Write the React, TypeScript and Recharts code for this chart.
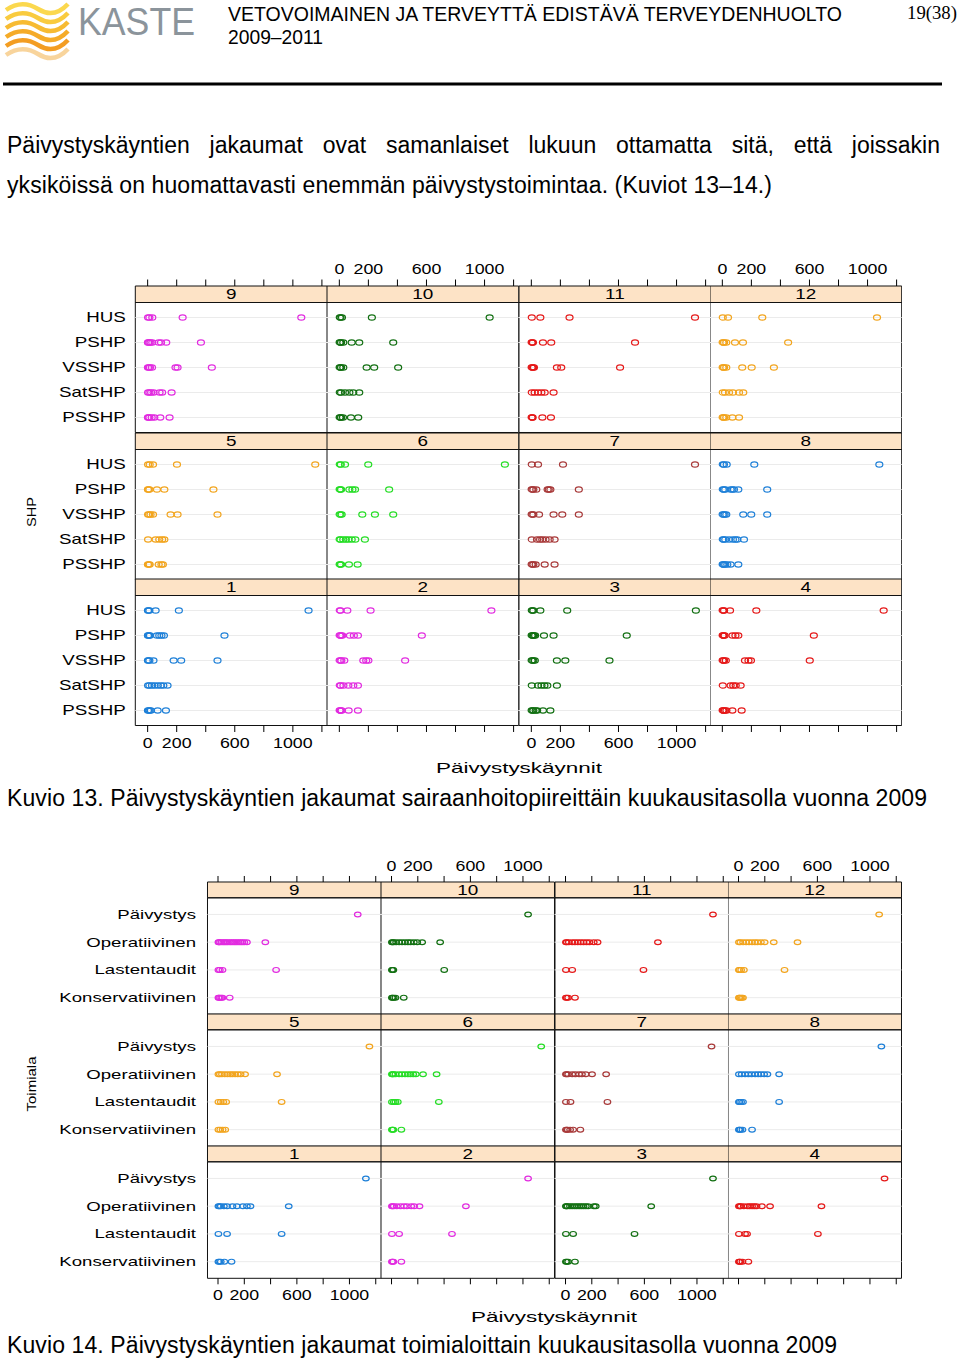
import React from 'react'
import { ScatterChart, Scatter, XAxis, YAxis, ReferenceLine, ReferenceArea } from 'recharts'

// ---------- data ----------
const shpNames = ['HUS', 'PSHP', 'VSSHP', 'SatSHP', 'PSSHP']
const toimialaNames = ['Päivystys', 'Operatiivinen', 'Lastentaudit', 'Konservatiivinen']
const monthColors = ['#1f80d8', '#e22ce0', '#137013', '#e51a1a', '#f2a51f', '#26dd26', '#a83a3a']
const xTicks = [0, 200, 400, 600, 800, 1000, 1200]
const xTickLabels = [0, 200, 600, 1000]
const panelRows = [[9, 10, 11, 12], [5, 6, 7, 8], [1, 2, 3, 4]]

// Kuvio 13: päivystyskäynnit per yksikkö, rivit shpNames-järjestyksessä
const shp1 = [[2, 6, 12, 55, 215, 1108], [2, 5, 10, 16, 64, 80, 95, 112, 529], [2, 6, 12, 40, 179, 231, 481], [3, 12, 30, 48, 70, 90, 108, 137], [2, 8, 14, 22, 69, 126]]
const shp2 = [[3, 8, 55, 215, 1047], [2, 6, 12, 20, 73, 100, 128, 568], [2, 8, 14, 34, 165, 185, 200, 453], [3, 9, 28, 62, 96, 128], [2, 5, 10, 16, 64, 128]]
const shp3 = [[3, 8, 14, 62, 247, 1133], [2, 6, 12, 18, 26, 87, 153, 657], [2, 7, 14, 24, 176, 234, 538], [3, 46, 70, 90, 110, 176], [2, 8, 14, 30, 40, 80, 131]]
const shp4 = [[2, 6, 12, 53, 234, 1111], [2, 5, 10, 16, 70, 90, 110, 630], [2, 6, 12, 24, 156, 180, 197, 602], [3, 57, 75, 92, 126], [2, 5, 10, 18, 28, 69, 133]]
const shp5 = [[3, 14, 37, 202, 1154], [2, 6, 12, 64, 115, 453], [3, 10, 20, 37, 158, 206, 481], [3, 55, 80, 100, 115], [2, 8, 14, 76, 95, 105]]
const shp6 = [[3, 10, 39, 199, 1140], [2, 6, 12, 69, 90, 108, 343], [2, 8, 16, 158, 245, 371], [2, 8, 27, 45, 62, 85, 110, 176], [2, 6, 12, 66, 126]]
const shp7 = [[3, 46, 218, 1127], [2, 7, 14, 34, 112, 120, 131, 327], [2, 7, 14, 53, 153, 213, 327], [3, 39, 60, 75, 98, 126, 160], [2, 7, 14, 30, 92, 160]]
const shp8 = [[3, 11, 30, 220, 1081], [3, 11, 20, 57, 70, 80, 110, 309], [2, 8, 16, 27, 144, 199, 309], [3, 9, 20, 46, 73, 90, 103, 149], [2, 5, 12, 20, 34, 57, 110]]
const shp9 = [[3, 12, 32, 241, 1058], [2, 6, 12, 20, 32, 76, 92, 128, 367], [2, 8, 16, 30, 192, 206, 442], [3, 12, 24, 41, 82, 100, 165], [2, 6, 12, 28, 46, 87, 151]]
const shp10 = [[3, 8, 18, 224, 1035], [2, 6, 12, 27, 85, 137, 371], [2, 6, 12, 27, 188, 240, 405], [3, 12, 39, 69, 96, 137], [2, 6, 12, 25, 80, 130]]
const shp11 = [[3, 62, 263, 1127], [2, 6, 11, 80, 137, 714], [2, 6, 12, 18, 176, 206, 611], [3, 23, 46, 69, 92, 153], [2, 5, 9, 76, 135]]
const shp12 = [[3, 39, 275, 1065], [2, 6, 12, 27, 87, 142, 453], [2, 6, 12, 27, 137, 202, 355], [3, 18, 46, 73, 115, 144], [2, 6, 12, 27, 69, 115]]

// Kuvio 14: rivit toimialaNames-järjestyksessä
const ala1 = [[1125], [3, 10, 21, 45, 69, 110, 144, 189, 220, 247, 538], [3, 69, 484], [3, 10, 21, 48, 103]]
const ala2 = [[1039], [3, 8, 17, 40, 69, 95, 117, 150, 172, 213, 566], [3, 58, 460], [3, 8, 14, 75]]
const ala3 = [[1122], [3, 7, 15, 34, 50, 69, 86, 103, 120, 137, 155, 172, 216, 230, 652], [3, 58, 525], [3, 10, 20, 72]]
const ala4 = [[1111], [3, 10, 17, 40, 69, 86, 103, 120, 137, 178, 240, 631], [3, 50, 65, 604], [3, 8, 14, 30, 75]]
const ala5 = [[1152], [3, 14, 30, 51, 72, 93, 110, 130, 150, 172, 206, 449], [3, 21, 40, 62, 484], [3, 17, 35, 55]]
const ala6 = [[1139], [3, 8, 14, 30, 58, 80, 103, 125, 144, 165, 185, 240, 343], [3, 17, 30, 48, 360], [3, 8, 14, 75]]
const ala7 = [[1111], [3, 10, 20, 51, 75, 103, 125, 154, 202, 309], [3, 38, 319], [3, 10, 17, 35, 58, 113]]
const ala8 = [[1087], [3, 24, 50, 75, 100, 127, 150, 171, 195, 220, 309], [3, 7, 20, 34, 309], [3, 7, 15, 30, 103]]
const ala9 = [[1063], [3, 7, 15, 27, 40, 51, 63, 75, 90, 103, 117, 130, 144, 158, 172, 185, 200, 220, 360], [3, 14, 34, 442], [3, 7, 15, 25, 34, 89]]
const ala10 = [[1039], [3, 8, 17, 35, 58, 80, 103, 125, 144, 170, 196, 233, 370], [3, 8, 14, 401], [3, 8, 17, 30, 93]]
const ala11 = [[1122], [3, 10, 25, 51, 72, 93, 115, 137, 160, 182, 215, 244, 703], [3, 51, 593], [3, 10, 20, 72]]
const ala12 = [[1070], [3, 14, 35, 58, 80, 103, 125, 144, 170, 199, 268, 449], [3, 7, 20, 41, 350], [3, 7, 15, 25, 34]]

// ---------- layout ----------
const FONT = '"Liberation Sans", Arial, Helvetica, sans-serif'
const AX = 32

type Fig = {
  names: string[]
  months: number[][][]
  left: number
  panelW: number
  top: number
  pitch: number
  stripH: number
  bodyH: number
  domain: [number, number]
  yGap: number
  ySize: number
  ySx: number
  tick: number
  rx: number
  ry: number
}

const kuvio13: Fig = {
  names: shpNames,
  months: [shp1, shp2, shp3, shp4, shp5, shp6, shp7, shp8, shp9, shp10, shp11, shp12],
  left: 135.3, panelW: 191.7, top: 286, pitch: 146.5, stripH: 16.5, bodyH: 130,
  domain: [-85, 1235], yGap: 9.5, ySize: 14, ySx: 1.34, tick: 6.5, rx: 3.5, ry: 2.6,
}

const kuvio14: Fig = {
  names: toimialaNames,
  months: [ala1, ala2, ala3, ala4, ala5, ala6, ala7, ala8, ala9, ala10, ala11, ala12],
  left: 207.5, panelW: 173.5, top: 881.8, pitch: 132.3, stripH: 15.8, bodyH: 116.5,
  domain: [-80, 1240], yGap: 11.5, ySize: 12.5, ySx: 1.49, tick: 6, rx: 3.3, ry: 2.4,
}

function XTick(props: any) {
  const { x, y, payload, show, side } = props
  if (!show || !xTickLabels.includes(payload?.value)) return <g />
  const ty = side === 'top' ? y - 10 : y + 11
  return (
    <g transform={`translate(${x},${ty}) scale(1.27,1)`}>
      <text textAnchor="middle" dominantBaseline="central" fontSize={14} fontFamily={FONT} fill="#000">
        {payload.value}
      </text>
    </g>
  )
}

function YTick(props: any) {
  const { x, y, payload, fig } = props
  const n = fig.names.length
  const name = fig.names[n - payload.value]
  return (
    <g transform={`translate(${x},${y}) scale(${fig.ySx},1)`}>
      <text textAnchor="end" dominantBaseline="central" fontSize={fig.ySize} fontFamily={FONT} fill="#000">
        {name}
      </text>
    </g>
  )
}

function Panel({ fig, month, r, c }: { fig: Fig; month: number; r: number; c: number }) {
  const n = fig.names.length
  const rows = fig.months[month - 1]
  const data = rows.flatMap((vals, i) => vals.map((v) => ({ x: v, y: n - i })))
  const levels = fig.names.map((_, i) => n - i)
  const ppu = fig.bodyH / (n + 0.2)
  const yMax = n + 0.6 + fig.stripH / ppu
  const yW = c === 0 ? fig.left : 0
  const w = fig.panelW + yW
  const h = AX + fig.stripH + fig.bodyH + AX
  const left = fig.left + c * fig.panelW - yW
  const top = fig.top + r * fig.pitch - AX
  const color = monthColors[(month - 1) % 7]
  const topTicks = r === 0
  const bottomTicks = r === 2
  const topLabels = topTicks && c % 2 === 1
  const bottomLabels = bottomTicks && c % 2 === 0

  return (
    <div style={{ position: 'absolute', left, top }}>
      <ScatterChart width={w} height={h} margin={{ top: 0, right: 0, bottom: 0, left: 0 }}>
        <XAxis
          xAxisId="t"
          orientation="top"
          type="number"
          dataKey="x"
          domain={fig.domain}
          allowDataOverflow
          ticks={xTicks}
          interval={0}
          height={AX}
          axisLine={false}
          stroke="#000"
          tickLine={topTicks ? { stroke: '#000' } : false}
          tickSize={fig.tick}
          tickMargin={0}
          tick={(p: any) => <XTick {...p} show={topLabels} side="top" />}
        />
        <XAxis
          xAxisId="b"
          orientation="bottom"
          type="number"
          dataKey="x"
          domain={fig.domain}
          allowDataOverflow
          ticks={xTicks}
          interval={0}
          height={AX}
          axisLine={false}
          stroke="#000"
          tickLine={bottomTicks ? { stroke: '#000' } : false}
          tickSize={fig.tick}
          tickMargin={0}
          tick={(p: any) => <XTick {...p} show={bottomLabels} side="bottom" />}
        />
        <YAxis
          yAxisId="y"
          type="number"
          dataKey="y"
          domain={[0.4, yMax]}
          allowDataOverflow
          ticks={levels}
          interval={0}
          width={yW}
          hide={c !== 0}
          axisLine={false}
          tickLine={false}
          tickSize={0}
          tickMargin={fig.yGap}
          tick={(p: any) => <YTick {...p} fig={fig} />}
        />
        {levels.map((l) => (
          <ReferenceLine key={l} xAxisId="b" yAxisId="y" y={l} stroke="#ebebeb" strokeWidth={1} />
        ))}
        <ReferenceArea
          xAxisId="b"
          yAxisId="y"
          y1={n + 0.6}
          y2={yMax}
          fill="#fde3c6"
          fillOpacity={1}
          stroke="#111"
          strokeWidth={1}
          label={(p: any) => {
            const vb = p.viewBox || {}
            const cx = vb.x + vb.width / 2
            const cy = vb.y + vb.height / 2
            return (
              <g transform={`translate(${cx},${cy + 0.5}) scale(1.35,1)`}>
                <text textAnchor="middle" dominantBaseline="central" fontSize={14} fontFamily={FONT} fill="#000">
                  {month}
                </text>
              </g>
            )
          }}
        />
        {/* invisible copy so the top axis has a series of its own */}
        <Scatter xAxisId="t" yAxisId="y" data={data} isAnimationActive={false} shape={() => <g />} />
        <Scatter
          xAxisId="b"
          yAxisId="y"
          data={data}
          isAnimationActive={false}
          shape={(p: any) => (
            <ellipse cx={p.cx} cy={p.cy} rx={fig.rx} ry={fig.ry} fill="none" stroke={color} strokeWidth={1.2} />
          )}
        />
        <ReferenceArea xAxisId="b" yAxisId="y" y1={0.4} y2={n + 0.6} fill="none" stroke="#111" strokeWidth={1} />
      </ScatterChart>
    </div>
  )
}

function Figure({ fig }: { fig: Fig }) {
  return (
    <>
      {panelRows.map((row, r) =>
        row.map((m, c) => <Panel key={`${r}-${c}`} fig={fig} month={m} r={r} c={c} />)
      )}
    </>
  )
}

function Logo() {
  const cols = ['#fbd84e', '#f9cb3f', '#f7bb32', '#f5ab28', '#f39d22', '#f3b04a']
  return (
    <g>
      {cols.map((col, i) => {
        const y = 6 + i * 9
        return (
          <path
            key={i}
            d={`M6 ${y + 4} Q 22 ${y - 7} 38 ${y + 3} T 68 ${y - 2}`}
            stroke={col}
            strokeWidth={4.5}
            fill="none"
            opacity={i === 5 ? 0.55 : 1}
          />
        )
      })}
    </g>
  )
}

export default function App() {
  const bodyFont = FONT
  return (
    <div style={{ position: 'absolute', left: 0, top: 0, width: 960, height: 1362, background: '#fff', overflow: 'hidden' }}>
      <svg width={960} height={1362} style={{ position: 'absolute', left: 0, top: 0 }}>
        <Logo />
        <text x={78} y={35} fontSize={38.5} fontFamily={bodyFont} fill="#8b949b" textLength={117} lengthAdjust="spacingAndGlyphs">
          KASTE
        </text>
        <text x={228} y={13} fontSize={21} fontFamily={'"Liberation Sans Narrow", ' + bodyFont} fill="#000" dominantBaseline="central" textLength={614} lengthAdjust="spacingAndGlyphs">
          VETOVOIMAINEN JA TERVEYTTÄ EDISTÄVÄ TERVEYDENHUOLTO
        </text>
        <text x={228} y={36} fontSize={21} fontFamily={'"Liberation Sans Narrow", ' + bodyFont} fill="#000" dominantBaseline="central" textLength={95} lengthAdjust="spacingAndGlyphs">
          2009–2011
        </text>
        <text x={907} y={13} fontSize={18} fontFamily={'"Liberation Serif", "DejaVu Serif", serif'} fill="#000" dominantBaseline="central" textLength={50} lengthAdjust="spacingAndGlyphs">
          19(38)
        </text>
        <rect x={3} y={82.5} width={939} height={3} fill="#000" />

        <text x={7} y={185} fontSize={23} fontFamily={bodyFont} fill="#000" dominantBaseline="central" textLength={765} lengthAdjust="spacing">
          yksiköissä on huomattavasti enemmän päivystystoimintaa. (Kuviot 13–14.)
        </text>

        <text transform="translate(32,512) rotate(-90)" fontSize={12} fontFamily={bodyFont} textAnchor="middle" dominantBaseline="central" textLength={30} lengthAdjust="spacingAndGlyphs">
          SHP
        </text>
        <text x={436} y={767} fontSize={15} fontFamily={bodyFont} dominantBaseline="central" textLength={166} lengthAdjust="spacingAndGlyphs">
          Päivystyskäynnit
        </text>
        <text x={7} y={798} fontSize={23} fontFamily={bodyFont} dominantBaseline="central" textLength={920} lengthAdjust="spacing">
          Kuvio 13. Päivystyskäyntien jakaumat sairaanhoitopiireittäin kuukausitasolla vuonna 2009
        </text>

        <text transform="translate(32,1084) rotate(-90)" fontSize={12} fontFamily={bodyFont} textAnchor="middle" dominantBaseline="central" textLength={55} lengthAdjust="spacingAndGlyphs">
          Toimiala
        </text>
        <text x={471} y={1316} fontSize={15} fontFamily={bodyFont} dominantBaseline="central" textLength={166} lengthAdjust="spacingAndGlyphs">
          Päivystyskäynnit
        </text>
        <text x={7} y={1345} fontSize={23} fontFamily={bodyFont} dominantBaseline="central" textLength={830} lengthAdjust="spacing">
          Kuvio 14. Päivystyskäyntien jakaumat toimialoittain kuukausitasolla vuonna 2009
        </text>
      </svg>

      <div
        style={{
          position: 'absolute',
          left: 7,
          top: 132,
          width: 933,
          fontSize: 23,
          lineHeight: '26px',
          fontFamily: bodyFont,
          textAlign: 'justify',
          textAlignLast: 'justify',
          whiteSpace: 'nowrap',
        }}
      >
        Päivystyskäyntien jakaumat ovat samanlaiset lukuun ottamatta sitä, että joissakin
      </div>

      <Figure fig={kuvio13} />
      <Figure fig={kuvio14} />
    </div>
  )
}
